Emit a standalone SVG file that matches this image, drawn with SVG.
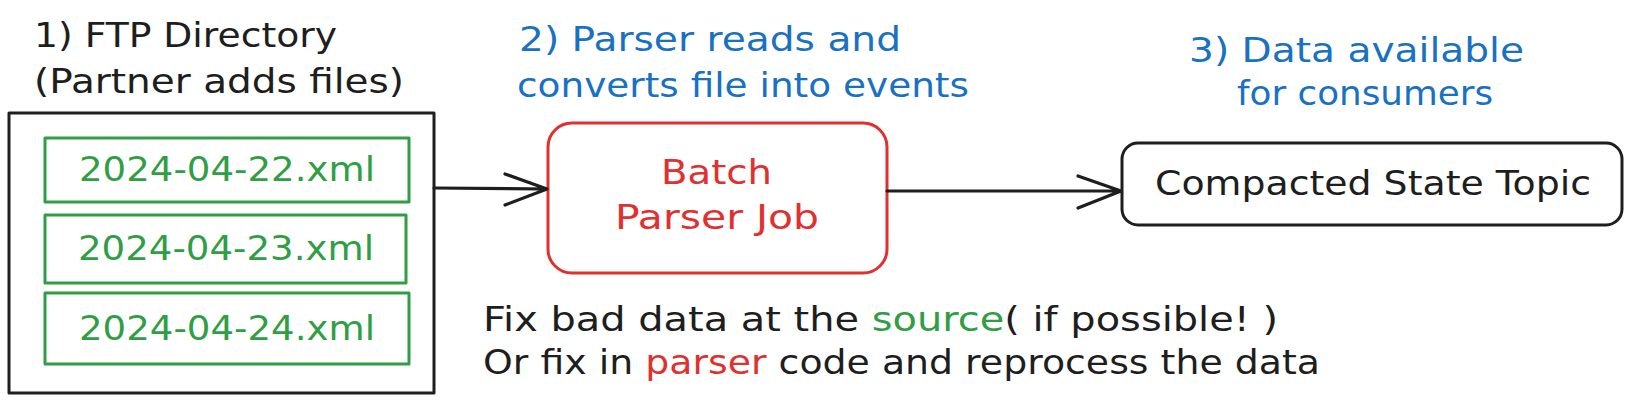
<svg xmlns="http://www.w3.org/2000/svg" width="1632" height="403" viewBox="0 0 1632 403">
<style>
text{font-family:"DejaVu Sans","Liberation Sans",sans-serif;font-size:33px}
.k{fill:#1e1e1e}.b{fill:#1971c2}.g{fill:#2f9e44}.r{fill:#e03131}
.box{fill:none;stroke-width:3;stroke-linejoin:round}
.conn{stroke:#1e1e1e;stroke-width:3.2;fill:none;stroke-linecap:round;stroke-linejoin:round}
</style>
<rect width="1632" height="403" fill="#ffffff"/>
<g id="labels">
<text class="k" x="34" y="47" textLength="303" lengthAdjust="spacingAndGlyphs">1) FTP Directory</text>
<text class="k" x="34" y="93" textLength="370" lengthAdjust="spacingAndGlyphs">(Partner adds files)</text>
<text class="b" x="519" y="51" textLength="382" lengthAdjust="spacingAndGlyphs">2) Parser reads and</text>
<text class="b" x="517" y="97" textLength="452" lengthAdjust="spacingAndGlyphs">converts file into events</text>
<text class="b" x="1189" y="62" textLength="335" lengthAdjust="spacingAndGlyphs">3) Data available</text>
<text class="b" x="1237" y="105" textLength="256" lengthAdjust="spacingAndGlyphs">for consumers</text>
</g>
<g id="ftp-directory">
<rect class="box" x="9" y="113" width="425" height="280" stroke="#1e1e1e"/>
</g>
<g id="file-22">
<rect class="box" x="45" y="138" width="364" height="64" stroke="#2f9e44"/>
<text class="g" x="79" y="181" textLength="296" lengthAdjust="spacingAndGlyphs">2024-04-22.xml</text>
</g>
<g id="file-23">
<rect class="box" x="45" y="215" width="361" height="68" stroke="#2f9e44"/>
<text class="g" x="78" y="260" textLength="296" lengthAdjust="spacingAndGlyphs">2024-04-23.xml</text>
</g>
<g id="file-24">
<rect class="box" x="45" y="293" width="364" height="71" stroke="#2f9e44"/>
<text class="g" x="79" y="340" textLength="296" lengthAdjust="spacingAndGlyphs">2024-04-24.xml</text>
</g>
<g id="batch-parser">
<rect class="box" x="548" y="123" width="339" height="150" rx="24" stroke="#e03131"/>
<text class="r" x="661" y="184" textLength="111" lengthAdjust="spacingAndGlyphs">Batch</text>
<text class="r" x="615" y="229" textLength="204" lengthAdjust="spacingAndGlyphs">Parser Job</text>
</g>
<g id="state-topic">
<rect class="box" x="1122" y="143" width="500" height="82" rx="16" stroke="#1e1e1e"/>
<text class="k" x="1155" y="195" textLength="436" lengthAdjust="spacingAndGlyphs">Compacted State Topic</text>
</g>
<g id="notes">
<text class="k" x="483" y="331" textLength="795" lengthAdjust="spacingAndGlyphs">Fix bad data at the <tspan class="g">source</tspan>( if possible! )</text>
<text class="k" x="483" y="374" textLength="837" lengthAdjust="spacingAndGlyphs">Or fix in <tspan class="r">parser</tspan> code and reprocess the data</text>
</g>
<g id="connectors">
<path class="conn" d="M434 188 L547 189 M505 174 L547 189 L505 205"/>
<path class="conn" d="M887 191 L1121 191 M1078 176 L1121 191 L1078 208"/>
</g>
</svg>
